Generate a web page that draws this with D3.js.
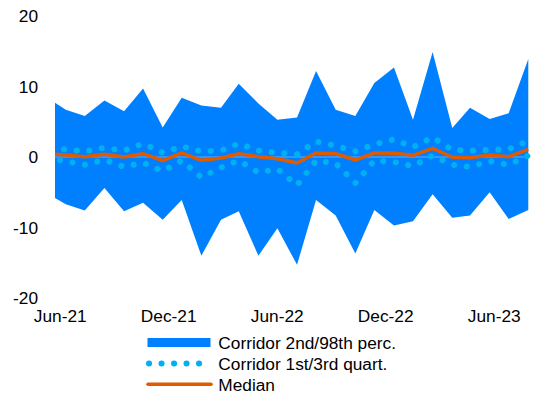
<!DOCTYPE html>
<html>
<head>
<meta charset="utf-8">
<script src="https://cdn.jsdelivr.net/npm/d3@7"></script>
<style>
  html, body { margin: 0; padding: 0; background: #fff; }
  svg { display: block; font-family: "Liberation Sans", Arial, sans-serif; }
</style>
</head>
<body>
<div id="chart"></div>
<script>
// observation dates (first one is mid-month)
const dates = ["2021-05-15", "2021-06-01", "2021-07-01", "2021-08-01", "2021-09-01", "2021-10-01",
  "2021-11-01", "2021-12-01", "2022-01-01", "2022-02-01", "2022-03-01", "2022-04-01", "2022-05-01",
  "2022-06-01", "2022-07-01", "2022-08-01", "2022-09-01", "2022-10-01", "2022-11-01", "2022-12-01",
  "2023-01-01", "2023-02-01", "2023-03-01", "2023-04-01", "2023-05-01", "2023-06-01"];

// corridor 2nd / 98th percentile
const p98 = [7.7, 6.7, 5.8, 8.0, 6.5, 9.7, 4.2, 8.4, 7.3, 7.0, 10.4, 7.6, 5.3,
  5.6, 12.2, 6.7, 5.8, 10.5, 12.7, 5.3, 14.9, 4.1, 7.0, 5.4, 6.2, 13.9];
const p2 = [-5.8, -6.7, -7.6, -4.4, -7.7, -6.5, -8.9, -6.1, -14.0, -8.9, -7.7, -14.0, -10.1,
  -15.3, -6.1, -8.3, -13.7, -7.5, -9.7, -9.1, -5.3, -8.6, -8.3, -5.0, -8.8, -7.5];

// corridor 1st / 3rd quartile
const q3 = [1.1, 1.1, 0.8, 1.3, 0.9, 1.9, 0.6, 1.5, 0.8, 0.9, 1.9, 0.9, 0.6,
  0.4, 2.2, 1.6, 0.8, 1.8, 2.5, 1.4, 2.8, 1.0, 0.9, 1.0, 1.1, 2.3];
const q1 = [-0.3, -0.6, -1.1, -0.4, -1.4, -0.8, -2.0, -0.5, -2.9, -1.5, -0.5, -2.2, -1.7,
  -4.0, -0.5, -0.9, -3.7, -0.5, -0.7, -1.3, 0.2, -1.1, -1.4, -0.6, -1.1, 0.2];

// median
const median = [0.38, 0.28, 0.04, 0.38, 0.0, 0.47, -0.52, 0.57, -0.47, -0.14, 0.47, 0.04, -0.24,
  -0.85, 0.57, 0.47, -0.43, 0.57, 0.52, 0.24, 1.23, -0.04, -0.1, 0.28, 0.04, 1.09];

const xLabels = ["Jun-21", "Dec-21", "Jun-22", "Dec-22", "Jun-23"];
const yTicks = [-20, -10, 0, 10, 20];

const legendItems = ["Corridor 2nd/98th perc.", "Corridor 1st/3rd quart.", "Median"];

const width = 558, height = 394;
const colBand = "#0080ff", colDots = "#00b0f0", colMedian = "#e05a00";

const parse = d3.timeParse("%Y-%m-%d");
const data = dates.map((d, i) => ({
  date: parse(d), lo: p2[i], hi: p98[i], q1: q1[i], q3: q3[i], med: median[i]
}));

const x = d3.scaleTime()
  .domain(d3.extent(data, d => d.date))
  .range([55, 528.3]);
const y = d3.scaleLinear().domain([-20, 20]).range([298, 16]);
const xl = d3.scalePoint().domain(xLabels).range([60.2, 494.2]);

const svg = d3.select("#chart").append("svg")
  .attr("width", width)
  .attr("height", height);

// 2-98 corridor
svg.append("path")
  .datum(data)
  .attr("fill", colBand)
  .attr("d", d3.area().x(d => x(d.date)).y0(d => y(d.lo)).y1(d => y(d.hi)));

// zero line
svg.append("line")
  .attr("x1", x.range()[0]).attr("x2", x.range()[1])
  .attr("y1", y(0)).attr("y2", y(0))
  .attr("stroke", "#5fb0ff")
  .attr("stroke-width", 1);

// quartile lines (round dots)
["q1", "q3"].forEach(k => {
  svg.append("path")
    .datum(data)
    .attr("fill", "none")
    .attr("stroke", colDots)
    .attr("stroke-width", 6)
    .attr("stroke-linecap", "round")
    .attr("stroke-dasharray", "0.1 12.6")
    .attr("stroke-dashoffset", k == "q1" ? -5 : -9)
    .attr("d", d3.line().x(d => x(d.date)).y(d => y(d[k])));
});

// median
svg.append("path")
  .datum(data)
  .attr("fill", "none")
  .attr("stroke", colMedian)
  .attr("stroke-width", 3.5)
  .attr("stroke-linejoin", "round")
  .attr("d", d3.line().x(d => x(d.date)).y(d => y(d.med)));

// y tick labels
svg.append("g")
  .selectAll("text")
  .data(yTicks)
  .join("text")
  .attr("x", 38)
  .attr("y", d => y(d))
  .attr("dy", "0.36em")
  .attr("text-anchor", "end")
  .attr("font-size", "17.3px")
  .attr("fill", "#000")
  .text(d => d);

// x labels
svg.append("g")
  .selectAll("text")
  .data(xLabels)
  .join("text")
  .attr("x", d => xl(d))
  .attr("y", 321.5)
  .attr("text-anchor", "middle")
  .attr("font-size", "17.3px")
  .attr("fill", "#000")
  .text(d => d);

// legend
const lg = svg.append("g");
const rowY = d3.scalePoint().domain(legendItems).range([342.5, 384.3]);

lg.append("rect")
  .attr("x", 147.5).attr("y", rowY(legendItems[0]) - 4.5)
  .attr("width", 63).attr("height", 9)
  .attr("fill", colBand);

lg.append("line")
  .attr("x1", 149).attr("x2", 200)
  .attr("y1", rowY(legendItems[1])).attr("y2", rowY(legendItems[1]))
  .attr("stroke", colDots)
  .attr("stroke-width", 6)
  .attr("stroke-linecap", "round")
  .attr("stroke-dasharray", "0.1 12.4");

lg.append("line")
  .attr("x1", 148).attr("x2", 211)
  .attr("y1", rowY(legendItems[2])).attr("y2", rowY(legendItems[2]))
  .attr("stroke", colMedian)
  .attr("stroke-width", 3.5)
  .attr("stroke-linecap", "round");

lg.selectAll("text")
  .data(legendItems)
  .join("text")
  .attr("x", 218.3)
  .attr("y", d => rowY(d))
  .attr("dy", "0.36em")
  .attr("font-size", "17.3px")
  .attr("fill", "#000")
  .text(d => d);
</script>
</body>
</html>
